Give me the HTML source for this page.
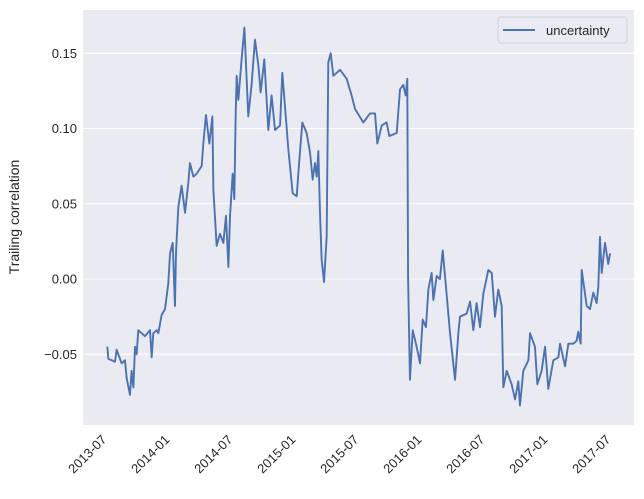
<!DOCTYPE html>
<html><head><meta charset="utf-8"><style>
html,body{margin:0;padding:0;background:#fff;}
svg{display:block;font-family:"Liberation Sans","DejaVu Sans",sans-serif;}
</style></head><body>
<svg id="chart" width="644" height="499" viewBox="0 0 644 499">
<rect x="83" y="10" width="551" height="415" fill="#eaeaf2"/>
<g id="grid"></g>
<g id="yticks"></g>
<g id="xticks"></g>
<path id="line" fill="none" stroke="#4c72b0" stroke-width="1.9" stroke-linejoin="round"/>
<text x="19" y="217" transform="rotate(-90 19 217)" text-anchor="middle" font-size="14" fill="#262626">Trailing correlation</text>
<g>
<rect x="498" y="17" width="129" height="26" rx="3" fill="#eaeaf2" stroke="#d0d0d8"/>
<line x1="503" y1="30" x2="535" y2="30" stroke="#4c72b0" stroke-width="1.9"/>
<text x="546" y="35" font-size="13" fill="#262626">uncertainty</text>
</g>
</svg>
<script>
const years = [2013.550,2013.558,2013.611,2013.624,2013.664,2013.690,2013.704,2013.730,2013.743,2013.757,2013.770,2013.783,2013.796,2013.849,2013.889,2013.902,2013.915,2013.942,2013.955,2013.981,2014.008,2014.034,2014.048,2014.069,2014.087,2014.095,2014.114,2014.140,2014.167,2014.193,2014.206,2014.233,2014.259,2014.299,2014.312,2014.333,2014.360,2014.384,2014.392,2014.418,2014.444,2014.471,2014.492,2014.511,2014.524,2014.545,2014.558,2014.569,2014.577,2014.590,2014.616,2014.638,2014.651,2014.669,2014.696,2014.722,2014.749,2014.767,2014.796,2014.828,2014.854,2014.881,2014.921,2014.939,2014.960,2014.987,2015.021,2015.053,2015.074,2015.098,2015.132,2015.159,2015.180,2015.198,2015.212,2015.225,2015.238,2015.251,2015.270,2015.291,2015.304,2015.323,2015.344,2015.397,2015.450,2015.489,2015.516,2015.582,2015.635,2015.675,2015.693,2015.728,2015.767,2015.788,2015.847,2015.873,2015.899,2015.918,2015.931,2015.937,2015.952,2015.974,2016.005,2016.032,2016.053,2016.079,2016.098,2016.124,2016.138,2016.164,2016.190,2016.212,2016.243,2016.270,2016.310,2016.336,2016.349,2016.402,2016.429,2016.455,2016.481,2016.508,2016.534,2016.574,2016.601,2016.627,2016.653,2016.680,2016.693,2016.720,2016.759,2016.786,2016.812,2016.825,2016.852,2016.892,2016.905,2016.944,2016.963,2016.997,2017.024,2017.050,2017.090,2017.130,2017.143,2017.183,2017.209,2017.249,2017.275,2017.288,2017.307,2017.315,2017.355,2017.381,2017.407,2017.434,2017.447,2017.460,2017.474,2017.500,2017.526,2017.540];
const values = [-0.045,-0.053,-0.055,-0.047,-0.056,-0.054,-0.066,-0.077,-0.061,-0.072,-0.045,-0.050,-0.034,-0.038,-0.034,-0.052,-0.036,-0.034,-0.036,-0.024,-0.020,-0.003,0.017,0.024,-0.018,0.017,0.048,0.062,0.044,0.064,0.077,0.068,0.070,0.075,0.090,0.109,0.090,0.108,0.059,0.022,0.030,0.024,0.042,0.008,0.042,0.070,0.053,0.110,0.135,0.119,0.146,0.167,0.142,0.108,0.130,0.159,0.142,0.124,0.146,0.099,0.122,0.099,0.102,0.137,0.115,0.086,0.057,0.055,0.079,0.104,0.097,0.084,0.066,0.077,0.068,0.085,0.044,0.013,-0.002,0.028,0.144,0.150,0.135,0.139,0.133,0.122,0.113,0.104,0.110,0.110,0.090,0.102,0.104,0.095,0.097,0.126,0.129,0.122,0.133,0.002,-0.067,-0.034,-0.045,-0.056,-0.027,-0.032,-0.007,0.004,-0.014,0.002,0.000,0.019,-0.010,-0.036,-0.067,-0.036,-0.025,-0.023,-0.015,-0.034,-0.016,-0.032,-0.010,0.006,0.004,-0.025,-0.007,-0.018,-0.072,-0.061,-0.070,-0.080,-0.068,-0.084,-0.061,-0.054,-0.036,-0.045,-0.070,-0.061,-0.045,-0.073,-0.054,-0.052,-0.043,-0.058,-0.043,-0.043,-0.041,-0.035,-0.043,0.006,-0.018,-0.020,-0.009,-0.016,-0.005,0.028,0.004,0.024,0.010,0.017];
const yTicks = [-0.05,0.00,0.05,0.10,0.15];
const yTickLabels = ["\u22120.05","0.00","0.05","0.10","0.15"];
const xTicks = [2013.5,2014.0,2014.5,2015.0,2015.5,2016.0,2016.5,2017.0,2017.5];
const xTickLabels = ["2013-07","2014-01","2014-07","2015-01","2015-07","2016-01","2016-07","2017-01","2017-07"];

const NS = "http://www.w3.org/2000/svg";
function X(t){ return 101 + (t - 2013.5) * 126; }
function Y(v){ return 279 - v * 1505; }
const grid = document.getElementById('grid');
const yg = document.getElementById('yticks');
const xg = document.getElementById('xticks');
yTicks.forEach((v,i)=>{
  const l = document.createElementNS(NS,'line');
  l.setAttribute('x1',83); l.setAttribute('x2',634);
  l.setAttribute('y1',Y(v)); l.setAttribute('y2',Y(v));
  l.setAttribute('stroke','#fff'); l.setAttribute('stroke-width','1');
  
  
  grid.appendChild(l);
  const t = document.createElementNS(NS,'text');
  t.setAttribute('x',77); t.setAttribute('y',Y(v)+4.5);
  t.setAttribute('text-anchor','end'); t.setAttribute('font-size','13'); t.setAttribute('fill','#262626');
  t.textContent = yTickLabels[i];
  
  
  yg.appendChild(t);
});
xTicks.forEach((v,i)=>{
  const x = X(v), y = 434;
  const t = document.createElementNS(NS,'text');
  t.setAttribute('x',x); t.setAttribute('y',y+9);
  t.setAttribute('text-anchor','end'); t.setAttribute('font-size','13'); t.setAttribute('fill','#262626');
  t.setAttribute('transform','rotate(-45 '+x+' '+y+')');
  t.textContent = xTickLabels[i];
  
  
  xg.appendChild(t);
});
let d = '';
years.forEach((t,i)=>{ d += (i ? 'L' : 'M') + X(t).toFixed(2) + ' ' + Y(values[i]).toFixed(2); });
document.getElementById('line').setAttribute('d', d);
</script>
</body></html>
